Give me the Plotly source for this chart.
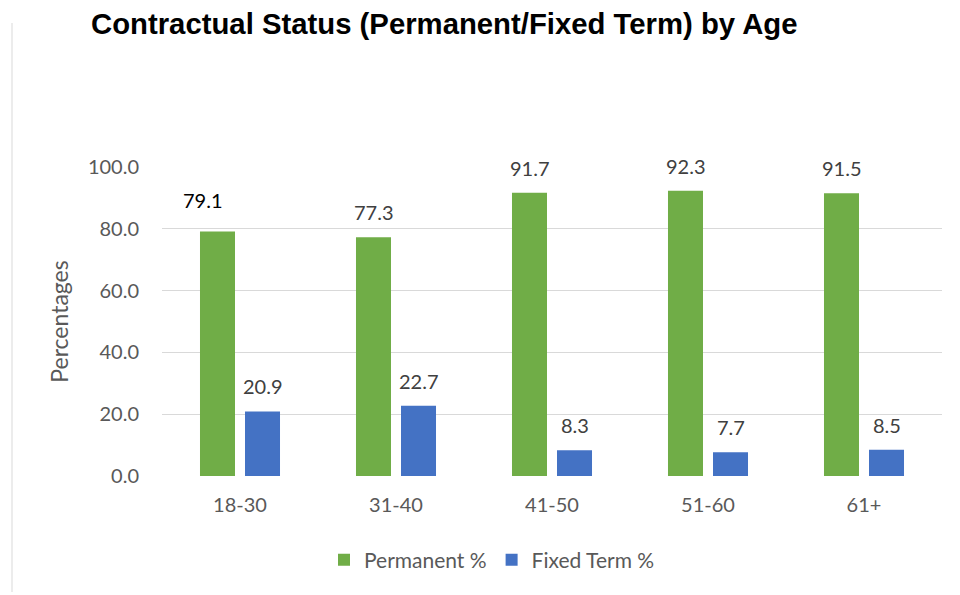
import plotly.graph_objects as go

categories = ["18-30", "31-40", "41-50", "51-60", "61+"]
permanent = [79.1, 77.3, 91.7, 92.3, 91.5]
fixed_term = [20.9, 22.7, 8.3, 7.7, 8.5]
y_ticks = [0, 20, 40, 60, 80, 100]
grid_ticks = [0, 20, 40, 60, 80]

GREEN = "#70AD47"
BLUE = "#4472C4"
GRID = "#D9D9D9"
TXT = "#595959"
LBL = "#404040"
FONT = "Lato, Open Sans, sans-serif"

# page body has an 8px margin; compensate so the picture lands where intended
OFF = 8
L, T = 162 - OFF, 167 - OFF
PW, PH = 780, 309

fig = go.Figure()
fig.add_trace(go.Bar(x=categories, y=permanent, name="Permanent %",
                     marker=dict(color=GREEN, line=dict(width=0))))
fig.add_trace(go.Bar(x=categories, y=fixed_term, name="Fixed Term %",
                     marker=dict(color=BLUE, line=dict(width=0))))
# empty helper trace so the gridline axis is drawn
fig.add_trace(go.Scatter(x=[], y=[], yaxis="y2", showlegend=False, hoverinfo="skip"))

label_style = {"Permanent %": -22.5, "Fixed Term %": 22.5}
special = {("Permanent %", 0): dict(dx=-15, dy=7, color="#000000")}
annotations = []
for name, vals in (("Permanent %", permanent), ("Fixed Term %", fixed_term)):
    for i, (c, v) in enumerate(zip(categories, vals)):
        sp = special.get((name, i), {})
        annotations.append(dict(
            x=c, y=v, xref="x", yref="y", text=f"{v:.1f}", showarrow=False,
            xshift=label_style[name] + sp.get("dx", 0), yshift=25 + sp.get("dy", 0),
            yanchor="middle", xanchor="center",
            font=dict(family=FONT, size=20, color=sp.get("color", LBL))))

fig.update_layout(
    width=960, height=595,
    margin=dict(l=L, r=960 - L - PW, t=T, b=595 - T - PH),
    paper_bgcolor="white", plot_bgcolor="white",
    barmode="group", bargap=0.423, bargroupgap=0.222,
    title=dict(text="<b>Contractual Status (Permanent/Fixed Term) by Age</b>",
               x=(91 - OFF) / 960, xref="container", xanchor="left",
               y=1 - (24 - OFF) / 595, yref="container", yanchor="middle",
               font=dict(family="Liberation Sans, Arial, sans-serif", size=29.3, color="#000000")),
    xaxis=dict(showgrid=False, showline=False, zeroline=False, ticks="",
               tickfont=dict(family=FONT, size=20, color=TXT), ticklabelstandoff=15),
    yaxis=dict(range=[0, 100], tickvals=y_ticks, ticktext=[f"{t:.1f}" for t in y_ticks],
               showgrid=False, zeroline=False, showline=False, ticks="",
               tickfont=dict(family=FONT, size=20, color=TXT), ticklabelstandoff=22,
               title=dict(text="Percentages", font=dict(family=FONT, size=23, color=TXT), standoff=12)),
    yaxis2=dict(range=[0, 100], overlaying="y", tickvals=grid_ticks, showticklabels=False,
                showgrid=True, gridcolor=GRID, gridwidth=1, zeroline=False, showline=False,
                ticks="", layer="below traces"),
    legend=dict(orientation="h", x=(492 - OFF - L) / PW, xanchor="center",
                y=(476 - 560) / PH, yanchor="middle",
                font=dict(family=FONT, size=21, color=TXT), itemwidth=30,
                traceorder="normal"),
    annotations=annotations,
    shapes=[dict(type="line", xref="paper", yref="paper",
                 x0=(12 - OFF - L) / PW, x1=(12 - OFF - L) / PW,
                 y0=(476 - 592) / PH, y1=(476 - 23) / PH,
                 line=dict(color=GRID, width=1))],
)

fig.write_html("out.html")
